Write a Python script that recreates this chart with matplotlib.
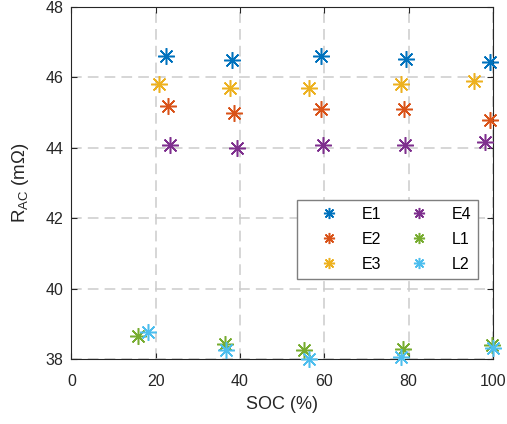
import matplotlib
matplotlib.use('Agg')
import matplotlib.pyplot as plt
from matplotlib.lines import Line2D

plt.rcParams['font.family'] = ['Liberation Sans', 'DejaVu Sans']
plt.rcParams['mathtext.fontset'] = 'custom'
plt.rcParams['mathtext.rm'] = 'Liberation Sans'
plt.rcParams['mathtext.it'] = 'Liberation Sans:italic'

SERIES = ["E1", "E2", "E3", "E4", "L1", "L2"]
COLORS = ["#0072BD", "#D95319", "#EDB120", "#7E2F8E", "#77AC30", "#4DBEEE"]

soc_e1 = [22.4, 38.1, 59.3, 79.4, 99.3]
rac_e1 = [46.61, 46.50, 46.61, 46.53, 46.42]
soc_e2 = [22.8, 38.6, 59.3, 79.0, 99.3]
rac_e2 = [45.19, 44.99, 45.10, 45.10, 44.80]
soc_e3 = [20.7, 37.7, 56.3, 78.2, 95.6]
rac_e3 = [45.80, 45.69, 45.70, 45.80, 45.90]
soc_e4 = [23.3, 39.4, 59.7, 79.2, 98.2]
rac_e4 = [44.09, 44.00, 44.09, 44.09, 44.17]
soc_l1 = [15.9, 36.4, 55.1, 78.6, 99.9]
rac_l1 = [38.65, 38.43, 38.26, 38.28, 38.40]
soc_l2 = [18.2, 36.6, 56.3, 78.2, 100.1]
rac_l2 = [38.78, 38.26, 38.00, 38.05, 38.33]

soc = [soc_e1, soc_e2, soc_e3, soc_e4, soc_l1, soc_l2]
rac = [rac_e1, rac_e2, rac_e3, rac_e4, rac_l1, rac_l2]

ASTERISK = (8, 2, 0)

fig = plt.figure(figsize=(5.07, 4.24), dpi=100)
ax = fig.add_axes([0.141, 0.153, 0.831, 0.831])

for name, c, xs, ys in zip(SERIES, COLORS, soc, rac):
    ax.plot(xs, ys, linestyle='none', marker=ASTERISK, markersize=12,
            markeredgewidth=1.1, color=c, clip_on=False, zorder=3)

ax.set_xlim(0, 100)
ax.set_ylim(38, 48)
ax.set_xticks([0, 20, 40, 60, 80, 100])
ax.set_yticks([38, 40, 42, 44, 46, 48])
ax.tick_params(direction='in', top=True, right=True, labelsize=11.5,
               length=4, width=0.8, colors='#262626', labelcolor='#262626')
ax.tick_params(axis='x', pad=11)
ax.tick_params(axis='y', pad=6)
ax.grid(True, linestyle=(0, (7, 4)), color='#cccccc', linewidth=1.1)
ax.set_axisbelow(True)
for sp in ax.spines.values():
    sp.set_linewidth(0.8)
    sp.set_color('#262626')

ax.set_xlabel('SOC (%)', fontsize=13, color='#262626', labelpad=5)
ax.set_ylabel(r'R$_{\mathrm{AC}}$ (m$\Omega$)', fontsize=13.5, color='#262626', labelpad=10)

handles = [Line2D([], [], linestyle='none', marker=ASTERISK, markersize=8,
                  markeredgewidth=1.1, color=c) for c in COLORS]
leg = ax.legend(handles, SERIES, ncol=2, loc='upper left',
                bbox_to_anchor=(0.535, 0.452), borderaxespad=0, fontsize=11.5,
                fancybox=False, edgecolor='#7f7f7f', framealpha=1,
                handlelength=3.1, handletextpad=0.5, columnspacing=0.8,
                borderpad=0.45, labelspacing=0.62)
leg.get_frame().set_linewidth(1.0)

fig.savefig('out.png', dpi=100)
